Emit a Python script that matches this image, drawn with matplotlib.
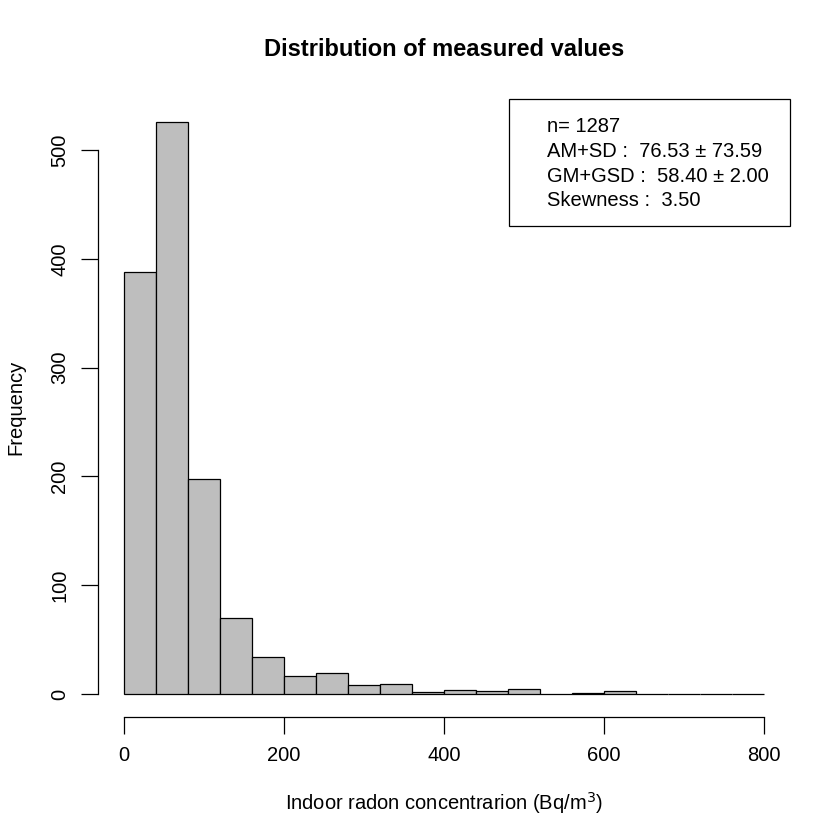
import matplotlib.pyplot as plt
import numpy as np
from matplotlib.patches import Rectangle

plt.rcParams['font.family'] = ['Liberation Sans', 'DejaVu Sans']

# histogram data (bin width 40, 0..800)
bin_edges = np.arange(0, 801, 40)
counts = [388, 526, 198, 70, 34, 17, 19, 8, 9, 2, 4, 3, 5, 0, 1, 3, 0, 0, 0, 0]

legend_lines = ['n= 1287',
                'AM+SD :  76.53 \u00b1 73.59',
                'GM+GSD :  58.40 \u00b1 2.00',
                'Skewness :  3.50']

W = H = 840
fig = plt.figure(figsize=(8.4, 8.4), dpi=100)
# plot region in pixels: x 98.4..789.6, y 98.8..716.9
ax = fig.add_axes([98.4 / W, 1 - 716.9 / H, (789.6 - 98.4) / W, (716.9 - 98.8) / H])

ax.bar(bin_edges[:-1], counts, width=40, align='edge', color='#bebebe',
       edgecolor='black', linewidth=0.9)

ax.set_xlim(-32, 832)
ax.set_ylim(-526 * 0.04, 526 * 1.04)

for s in ['top', 'right']:
    ax.spines[s].set_visible(False)
ax.spines['left'].set_bounds(0, 500)
ax.spines['bottom'].set_bounds(0, 800)
ax.spines['left'].set_linewidth(0.9)
ax.spines['bottom'].set_linewidth(0.9)

ax.set_xticks(np.arange(0, 801, 200))
ax.set_yticks(np.arange(0, 501, 100))
ax.tick_params(axis='both', length=12, width=0.9, labelsize=14.5, pad=9)
for lab in ax.get_yticklabels():
    lab.set_rotation(90)
    lab.set_va('center')

ax.set_xlabel('Indoor radon concentrarion (Bq/m$^3$)', fontsize=14.5, labelpad=18)
ax.set_ylabel('Frequency', fontsize=14.5, labelpad=18)
fig.text(444 / W, 1 - 50 / H, 'Distribution of measured values', fontsize=17,
         fontweight='bold', ha='center', va='center')

# legend box (topright)
fig.patches.append(Rectangle((509 / W, 1 - 226 / H), (789.6 - 509) / W, (226 - 98.8) / H,
                             transform=fig.transFigure, fill=False, edgecolor='black',
                             linewidth=0.9))
for i, line in enumerate(legend_lines):
    fig.text(547 / W, 1 - (127 + 24.5 * i) / H, line, fontsize=14.5, ha='left', va='center')

fig.savefig('out.png', dpi=100, facecolor='white')
